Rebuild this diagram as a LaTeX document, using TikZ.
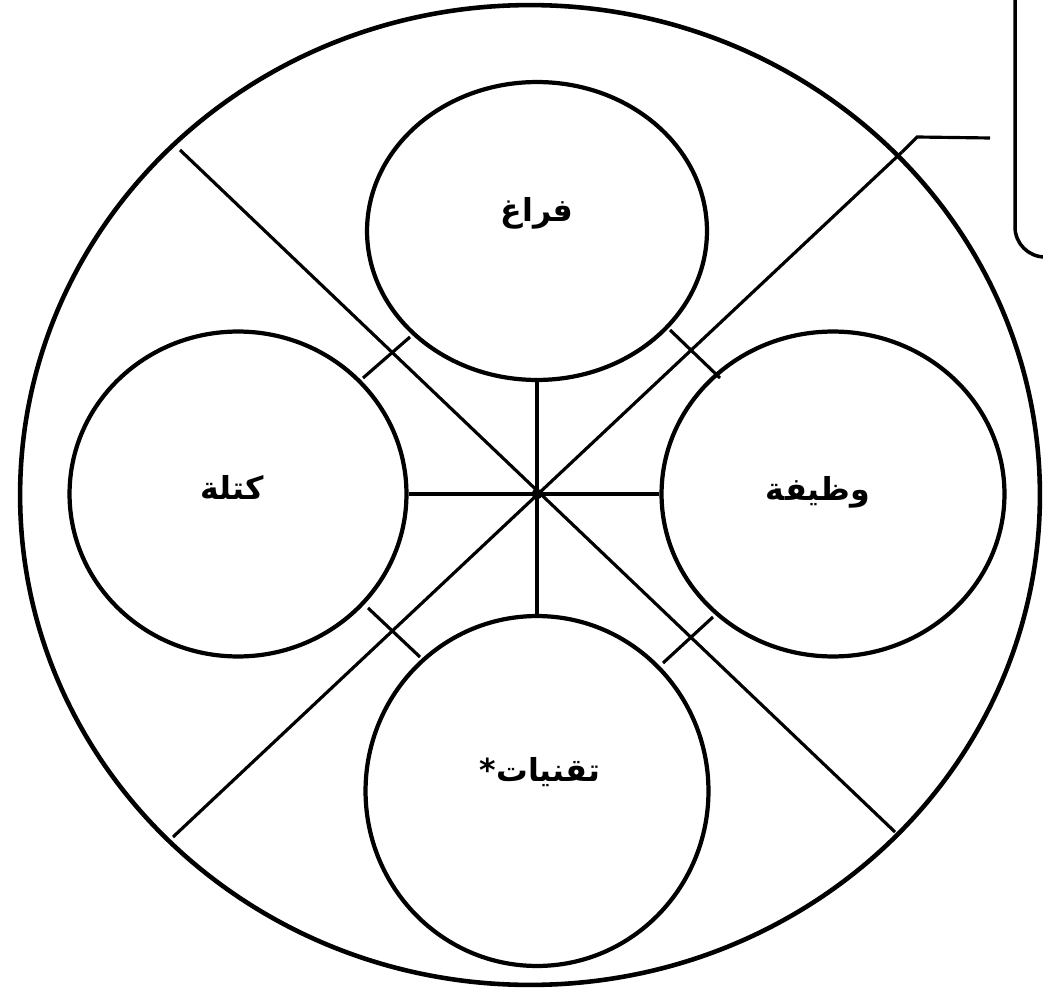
\documentclass[tikz,border=0pt]{standalone}
\usepackage{fontspec}
\usetikzlibrary{shapes.geometric}
\TeXXeTstate=1
\newfontfamily\arabicfont[Script=Arabic]{DejaVu Sans}
\tikzset{
  outer/.style={draw, ellipse, line width=2.6pt, inner sep=0pt},
  inner/.style={draw, ellipse, line width=2.4pt, inner sep=0pt, fill=white},
  conn/.style={line width=1.8pt},
  lbl/.style={font=\arabicfont\bfseries\fontsize{18}{22}\selectfont, inner sep=0pt},
}
\begin{document}
\begin{tikzpicture}[x=0.02cm, y=-0.02cm]
\useasboundingbox (0,0) rectangle (1043,989);
\clip (0,0) rectangle (1043,989);
\fill[white] (0,0) rectangle (1043,989);
% big circle
\node[outer, minimum width=20.4cm, minimum height=19.6cm] (big) at (530,495) {};
% diagonal end points on the big circle
\coordinate (d1) at (180,150);
\coordinate (d2) at (902,152);
\coordinate (d3) at (173,837);
\coordinate (d4) at (895,832);
\coordinate (c) at (537,494);
\draw[conn] (d1) -- (d4);
\draw[conn] (d2) -- (d3);
% inner circles
\node[inner, minimum width=6.8cm, minimum height=5.96cm] (top) at (537,231) {};
\node[inner, minimum width=6.74cm, minimum height=6.5cm] (left) at (238,494) {};
\node[inner, minimum width=6.86cm, minimum height=6.5cm] (right) at (833,494) {};
\node[inner, minimum width=6.86cm, minimum height=7.0cm] (bottom) at (537,791) {};
% spokes
\draw[conn] (c) -- (top.south);
\draw[conn] (c) -- (bottom.north);
\draw[conn] (c) -- (left.east);
\draw[conn] (c) -- (right.west);
\node[circle, fill, inner sep=0pt, minimum size=0.22cm] (dot) at (c) {};
% short links between neighbouring circles
\coordinate (tl1) at (363,378); \coordinate (tl2) at (410,337);
\coordinate (tr1) at (670,330); \coordinate (tr2) at (720,378);
\coordinate (bl1) at (368,608); \coordinate (bl2) at (420,657);
\coordinate (br1) at (663,663); \coordinate (br2) at (713,617);
\draw[conn] (tl1) -- (tl2);
\draw[conn] (tr1) -- (tr2);
\draw[conn] (bl1) -- (bl2);
\draw[conn] (br1) -- (br2);
% labels
\node[lbl] (t1) at (537,213) {\beginR فراغ\endR};
\node[lbl] (t2) at (232,487) {\beginR كتلة\endR};
\node[lbl] (t3) at (818,492) {\beginR وظيفة\endR};
\node[lbl] (t4) at (540,772) {\beginR تقنيات*\endR};
% leader and callout box
\coordinate (lb) at (917,137);
\coordinate (le) at (990,138);
\draw[conn] (d2) -- (lb) -- (le);
\draw[line width=2pt, rounded corners=0.6cm] (1015,-60) -- (1015,257) -- (1150,257);
\end{tikzpicture}
\end{document}
